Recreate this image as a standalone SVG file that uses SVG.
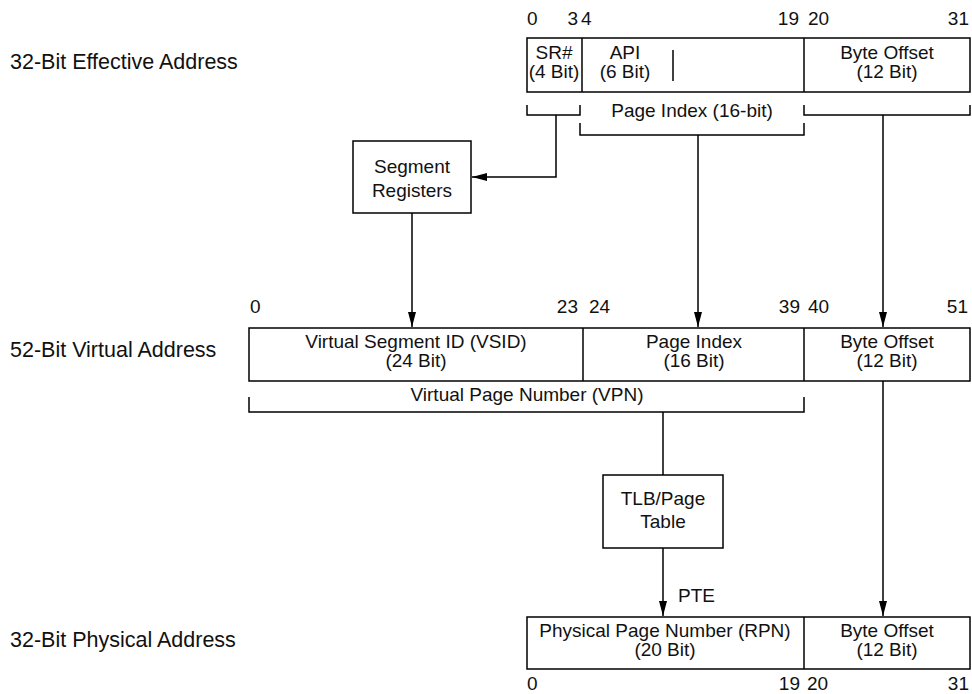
<svg xmlns="http://www.w3.org/2000/svg" width="972" height="694" viewBox="0 0 972 694">
<defs>
<marker id="ah" markerUnits="userSpaceOnUse" markerWidth="16" markerHeight="10" refX="15" refY="4" orient="auto">
<path d="M0,0 L15,4 L0,8 z" fill="#000"/>
</marker>
<style>
text{font-family:"Liberation Sans",Arial,sans-serif;fill:#111}
.t{font-size:19px;text-anchor:middle}
.n{font-size:19px}
.e{text-anchor:end}
.lbl{font-size:21.5px}
.box{fill:#fff;stroke:#000;stroke-width:1.5}
.ln{fill:none;stroke:#000;stroke-width:1.5}
.arr{fill:none;stroke:#000;stroke-width:1.5;marker-end:url(#ah)}
</style>
</defs>
<rect width="972" height="694" fill="#fff"/>

<g id="labels">
<text class="lbl" x="10" y="69">32-Bit Effective Address</text>
<text class="lbl" x="10" y="357">52-Bit Virtual Address</text>
<text class="lbl" x="10" y="647">32-Bit Physical Address</text>
</g>

<g id="effective-address">
<rect class="box" x="527" y="38" width="443" height="54"/>
<line class="ln" x1="582" y1="38" x2="582" y2="92"/>
<line class="ln" x1="804" y1="38" x2="804" y2="92"/>
<line class="ln" x1="673" y1="50" x2="673" y2="81"/>
<text class="t" x="554" y="59">SR#</text>
<text class="t" x="554" y="78">(4 Bit)</text>
<text class="t" x="625" y="59">API</text>
<text class="t" x="625" y="78">(6 Bit)</text>
<text class="t" x="887" y="59">Byte Offset</text>
<text class="t" x="887" y="78">(12 Bit)</text>
<text class="n" x="527" y="25">0</text>
<text class="n e" x="578" y="25">3</text>
<text class="n" x="581" y="25">4</text>
<text class="n e" x="799" y="25">19</text>
<text class="n" x="808" y="25">20</text>
<text class="n e" x="969" y="25">31</text>
<text class="t" x="692" y="117">Page Index (16-bit)</text>
</g>

<g id="segment-registers">
<rect class="box" x="353" y="141" width="118" height="72"/>
<text class="t" x="412" y="173">Segment</text>
<text class="t" x="412" y="197">Registers</text>
</g>

<g id="virtual-address">
<rect class="box" x="249" y="328" width="721" height="53"/>
<line class="ln" x1="583" y1="328" x2="583" y2="381"/>
<line class="ln" x1="804" y1="328" x2="804" y2="381"/>
<text class="t" x="416" y="348">Virtual Segment ID (VSID)</text>
<text class="t" x="416" y="367">(24 Bit)</text>
<text class="t" x="694" y="348">Page Index</text>
<text class="t" x="694" y="367">(16 Bit)</text>
<text class="t" x="887" y="348">Byte Offset</text>
<text class="t" x="887" y="367">(12 Bit)</text>
<text class="n" x="250" y="313">0</text>
<text class="n e" x="578" y="313">23</text>
<text class="n" x="589" y="313">24</text>
<text class="n e" x="800" y="313">39</text>
<text class="n" x="808" y="313">40</text>
<text class="n e" x="968" y="313">51</text>
<text class="t" x="527" y="401">Virtual Page Number (VPN)</text>
</g>

<g id="tlb-page-table">
<rect class="box" x="603" y="475" width="120" height="73"/>
<text class="t" x="663" y="505">TLB/Page</text>
<text class="t" x="663" y="528">Table</text>
</g>

<g id="physical-address">
<rect class="box" x="527" y="617" width="443" height="52"/>
<line class="ln" x1="804" y1="617" x2="804" y2="669"/>
<text class="t" x="665" y="637">Physical Page Number (RPN)</text>
<text class="t" x="665" y="656">(20 Bit)</text>
<text class="t" x="887" y="637">Byte Offset</text>
<text class="t" x="887" y="656">(12 Bit)</text>
<text class="n" x="527" y="690">0</text>
<text class="n e" x="800" y="690">19</text>
<text class="n" x="807" y="690">20</text>
<text class="n e" x="969" y="690">31</text>
</g>

<g id="connectors">
<path class="ln" d="M527,105 V115 H580 V105"/>
<path class="ln" d="M580,123 V135 H804 V123"/>
<path class="ln" d="M804,105 V115 H970 V105"/>
<path class="ln" d="M249,397 V412 H804 V397"/>
<path class="arr" d="M556,115 V177 H472"/>
<path class="arr" d="M698,135 V327"/>
<path class="arr" d="M883,115 V327"/>
<path class="arr" d="M412,213 V327"/>
<path class="ln" d="M663,412 V475"/>
<path class="arr" d="M663,548 V616"/>
<path class="arr" d="M883,381 V616"/>
<text class="n" x="678" y="602">PTE</text>
</g>
</svg>
